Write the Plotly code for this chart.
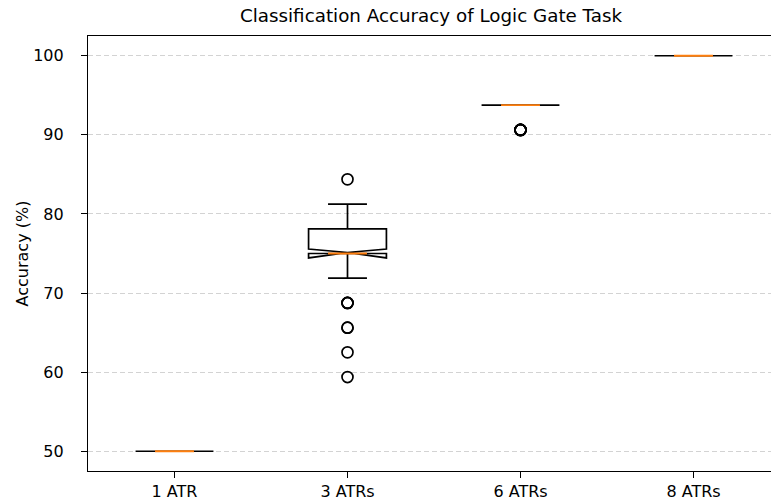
import numpy as np
import plotly.graph_objects as go

# ---- data (accuracy values in %, with how many runs gave each value) ----
categories = ["1 ATR", "3 ATRs", "6 ATRs", "8 ATRs"]
positions = [1, 2, 3, 4]

atr1_values = [50.0]
atr1_counts = [76]

atr3_values = [59.375, 62.5, 65.625, 68.75, 71.875, 75.0, 78.125, 81.25, 84.375]
atr3_counts = [1, 1, 2, 3, 5, 38, 21, 4, 1]

atr6_values = [90.625, 93.75]
atr6_counts = [6, 70]

atr8_values = [100.0]
atr8_counts = [76]

groups = [
    np.repeat(atr1_values, atr1_counts),
    np.repeat(atr3_values, atr3_counts),
    np.repeat(atr6_values, atr6_counts),
    np.repeat(atr8_values, atr8_counts),
]

BOX_W = 0.45
FONT = "DejaVu Sans"

fig = go.Figure()

xs, ys = [], []
for p, g in zip(positions, groups):
    xs.extend([p] * len(g))
    ys.extend(g.tolist())

fig.add_trace(go.Box(
    x=xs, y=ys,
    notched=True, notchwidth=0.5,
    width=BOX_W, whiskerwidth=0.5,
    boxpoints="outliers", jitter=0, pointpos=0,
    fillcolor="rgba(255,255,255,0)",
    line=dict(color="black", width=1.7),
    marker=dict(symbol="circle-open", size=11, color="black",
                line=dict(width=1.7, color="black")),
    showlegend=False, hoverinfo="skip",
))

# orange median segments (matplotlib style)
mx, my = [], []
for p, g in zip(positions, groups):
    m = float(np.median(g))
    mx += [p - BOX_W / 4, p + BOX_W / 4, None]
    my += [m, m, None]
fig.add_trace(go.Scatter(x=mx, y=my, mode="lines",
                         line=dict(color="#ff7f0e", width=1.8),
                         showlegend=False, hoverinfo="skip"))

W, H = 771, 502
L, R, T, B = 88, 0, 36, 31
px_per_unit = 173.0
xmax = 0.5 + (W - L - R) / px_per_unit

fig.update_layout(
    width=W, height=H,
    margin=dict(l=L, r=R, t=T, b=B),
    paper_bgcolor="white", plot_bgcolor="white",
    font=dict(family=FONT, size=16, color="black"),
    title=dict(text="Classification Accuracy of Logic Gate Task",
               x=431 / W, xref="container", xanchor="center",
               y=1 - 16 / H, yref="container", yanchor="middle",
               font=dict(family=FONT, size=18.3, color="black")),
    xaxis=dict(
        range=[0.5, xmax],
        tickmode="array", tickvals=positions, ticktext=categories,
        showgrid=False, zeroline=False,
        showline=True, linecolor="black", linewidth=1.2, mirror=True,
        ticks="outside", ticklen=6, tickwidth=1.2, tickcolor="black",
        tickfont=dict(size=16), ticklabelstandoff=0,
    ),
    yaxis=dict(
        range=[47.5, 102.5],
        tickmode="array", tickvals=[50, 60, 70, 80, 90, 100],
        showgrid=True, gridcolor="#d3d3d3", gridwidth=1, griddash="5px,3px",
        zeroline=False,
        showline=True, linecolor="black", linewidth=1.2, mirror=False,
        ticks="outside", ticklen=6, tickwidth=1.2, tickcolor="black",
        tickfont=dict(size=16), ticklabelstandoff=14,
        title=dict(text="Accuracy (%)", font=dict(size=16), standoff=0),
        automargin=False,
    ),
)

fig.write_html("out.html")
